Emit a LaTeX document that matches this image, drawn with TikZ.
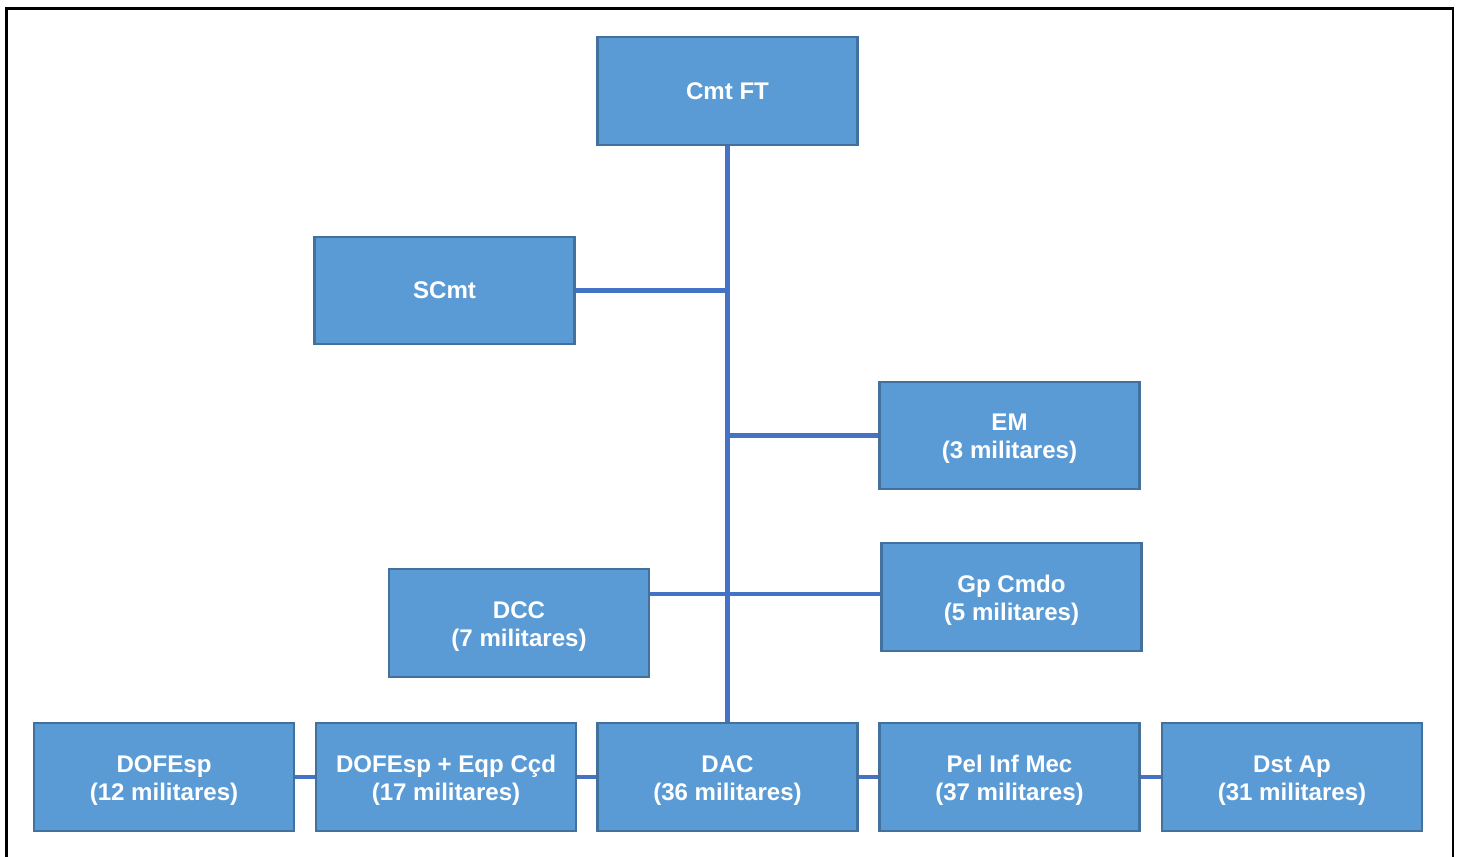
\documentclass[tikz,border=0pt]{standalone}
\usepackage{fontspec}
\setmainfont{Liberation Sans}
\usetikzlibrary{positioning,calc}
\definecolor{unitFill}{HTML}{5B9BD5}
\definecolor{unitDraw}{HTML}{41719C}
\definecolor{linkBlue}{HTML}{4472C4}
\newcommand{\unitlabel}[2]{\raisebox{-2pt}[\height][\depth]{\begin{tabular}{@{}c@{}}#1\\#2\end{tabular}}}
\tikzset{
  unitbox/.style={draw=unitDraw, fill=unitFill, line width=1.3pt,
    minimum width=5.2cm, minimum height=2.15cm, align=center, text=white,
    font=\fontsize{13.7}{15.9}\selectfont\bfseries, inner sep=0pt},
  link/.style={draw=linkBlue, line width=2.3pt},
  frame/.style={draw=black, line width=1.5pt},
}
\begin{document}
\begin{tikzpicture}[x=0.02cm, y=-0.02cm]
    \useasboundingbox (0,0) rectangle (1459,856);
    \draw[frame] (6.5,870) -- (6.5,8.5) -- (1453,8.5) -- (1453,870);
    % top and side units
    \node[unitbox] (cmtft) at (727.5,91) {Cmt FT};
    \node[unitbox] (scmt) at (444.5,290.5) {SCmt};
    \node[unitbox] (em) at (1009.5,435.5) {\unitlabel{EM}{(3 militares)}};
    \node[unitbox] (gpcmdo) at (1011.5,597) {\unitlabel{Gp Cmdo}{(5 militares)}};
    \node[unitbox] (dcc) at (519,623) {\unitlabel{DCC}{(7 militares)}};
    % bottom row
    \node[unitbox] (dofesp) at (164,777) {\unitlabel{DOFEsp}{(12 militares)}};
    \node[unitbox] (dofeqp) at (446,777) {\unitlabel{DOFEsp + Eqp Cçd}{(17 militares)}};
    \node[unitbox] (dac) at (727.5,777) {\unitlabel{DAC}{(36 militares)}};
    \node[unitbox] (pelinf) at (1009.5,777) {\unitlabel{Pel Inf Mec}{(37 militares)}};
    \node[unitbox] (dstap) at (1292,777) {\unitlabel{Dst Ap}{(31 militares)}};
    % links
    \draw[link] (cmtft) -- (dac);
    \draw[link] (scmt.east) -- (scmt.east -| cmtft.south);
    \draw[link] (em.west -| cmtft.south) -- (em.west);
    \draw[link] ($(dcc.east |- gpcmdo.west)+(0,-3)$) -- ($(gpcmdo.west)+(0,-3)$);
    \draw[link] (dofesp) -- (dofeqp);
    \draw[link] (dofeqp) -- (dac);
    \draw[link] (dac) -- (pelinf);
    \draw[link] (pelinf) -- (dstap);
\end{tikzpicture}
\end{document}
